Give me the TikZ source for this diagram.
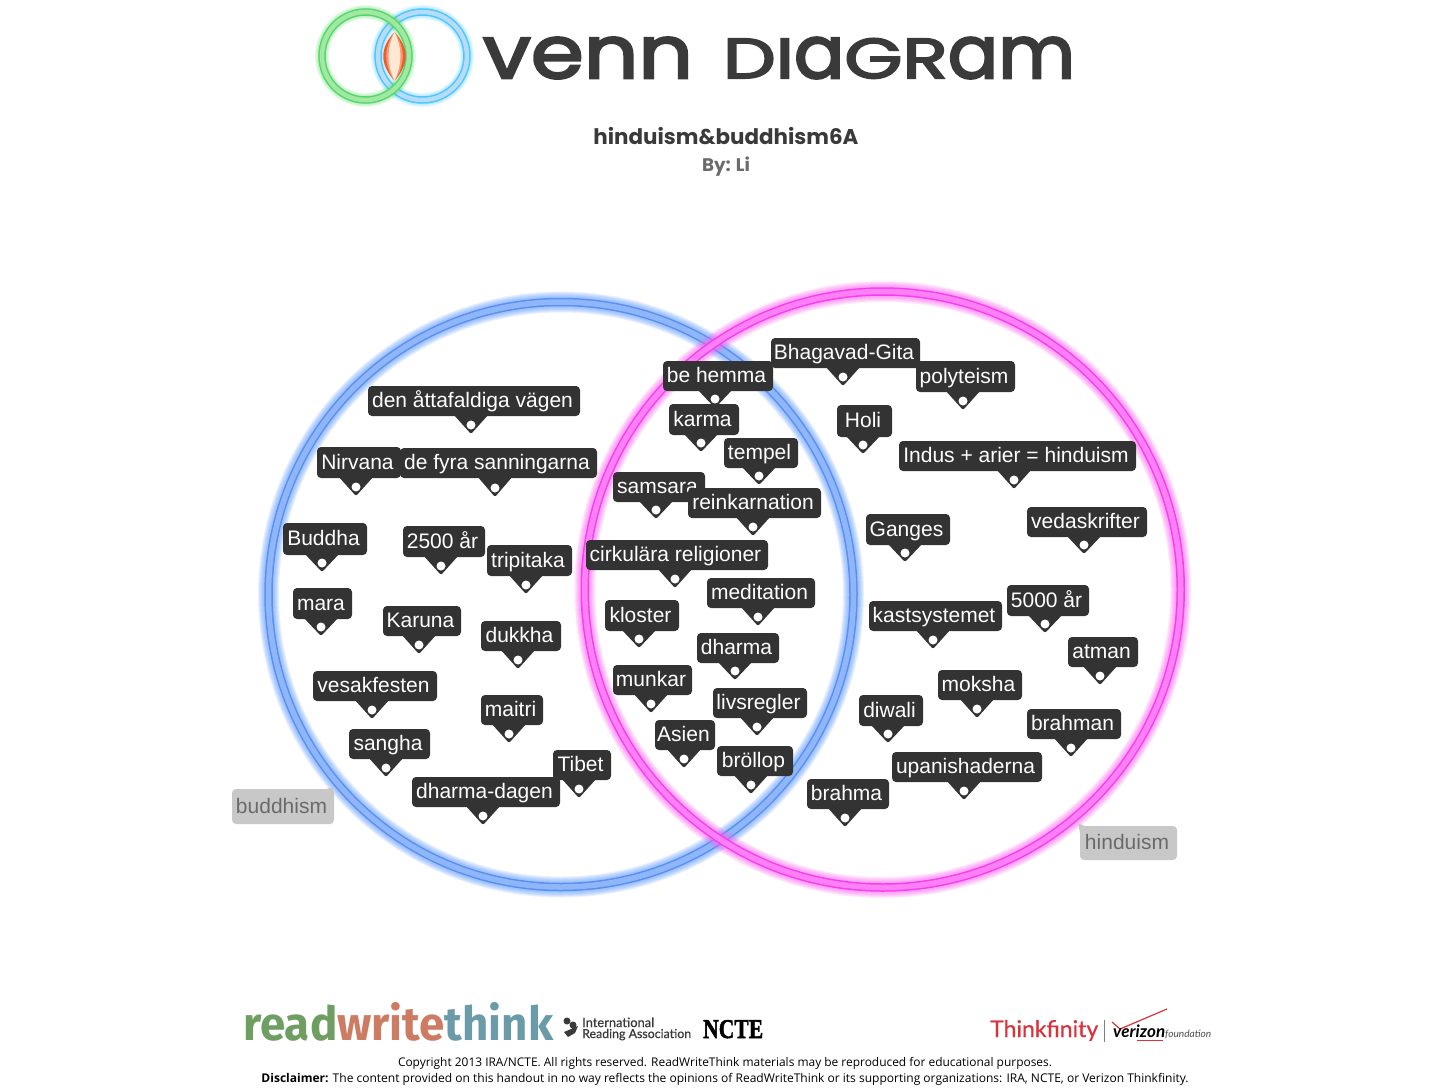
\documentclass[tikz,border=0pt]{standalone}
\usepackage{fontspec}
\usepackage{graphicx}
\setmainfont{Liberation Sans}
\newfontfamily\popf{Poppins}
\newfontfamily\popfk[FakeBold=3]{Poppins}
\newfontfamily\openf{Open Sans}
\newfontfamily\fira{Fira Sans}
\newfontfamily\latof{Lato}
\newfontfamily\latofb[FakeBold=0.5]{Lato}
\newfontfamily\serfk[BoldFeatures={FakeBold=2}]{Liberation Serif}
\definecolor{tagdark}{HTML}{333333}
\definecolor{taggray}{HTML}{C8C8C8}
\definecolor{taggraytext}{HTML}{6A6A6A}
\definecolor{bluering}{HTML}{5A8FF2}
\definecolor{bluemid}{HTML}{8FB6F8}
\definecolor{blueglow}{HTML}{5A98FF}
\definecolor{pinkring}{HTML}{F43FEC}
\definecolor{pinkmid}{HTML}{FF80F6}
\definecolor{pinkglow}{HTML}{FF60F5}
\definecolor{logodark}{HTML}{3A3A3A}
\definecolor{lggreen}{HTML}{55D865}
\definecolor{lgmid}{HTML}{A0E8A4}
\definecolor{lgcyan}{HTML}{48C8FF}
\definecolor{lgcmid}{HTML}{B8DCF8}
\definecolor{lenscream}{HTML}{FFE9D4}
\definecolor{lensred}{HTML}{EE5A2A}
\definecolor{rwgreen}{HTML}{6F9E63}
\definecolor{rwred}{HTML}{CD7B62}
\definecolor{rwteal}{HTML}{6B9AA8}
\definecolor{tfred}{HTML}{D8323C}
\tikzset{
  x=1pt,y=-1pt,
  tagbody/.style={fill=tagdark,text=white,rounded corners=4pt,inner sep=0pt,font=\fontsize{21}{24}\selectfont,text height=17pt,text depth=4pt},
  graybody/.style={fill=taggray,text=taggraytext,rounded corners=4pt,inner sep=0pt,font=\fontsize{21}{24}\selectfont,text height=17pt,text depth=4pt},
  foot/.style={inner sep=0pt,text=black},
}
% name, x0,y0,x1,y1, text, dotx, doty
\newcommand\tagbox[8]{%
  \fill[tagdark,rounded corners=2pt] ({#7-18},{#5-2}) -- (#7,{#8+9}) -- ({#7+18},{#5-2}) -- cycle;
  \node[tagbody,minimum width={(#4-#2)*1pt},minimum height={(#5-#3)*1pt}] (#1) at ({(#2+#4)/2},{(#3+#5)/2}) {\kern-3pt #6};
  \fill[white] (#7,#8) circle (4.5);
}
\newcommand\ring[6]{% cx cy r glow line mid
  \foreach \w in {21,19,17,15,13,11}{\draw[#4,line width=\w pt,opacity=.13] (#1,#2) circle (#3);}
  \draw[#5,line width=8.5pt] (#1,#2) circle (#3);
  \draw[#6,line width=5.5pt] (#1,#2) circle (#3);
}
\newcommand\lring[4]{% cx rx line mid
  \foreach \w in {14,12,10}{\draw[#3,line width=\w pt,opacity=.12] (#1,56) ellipse (#2 and 44);}
  \draw[#3,line width=7.5pt] (#1,56) ellipse (#2 and 44);
  \draw[#4,line width=4.5pt] (#1,56) ellipse (#2 and 44);
}
\newcommand\lens[2]{% half width, colour
  \fill[#2] (394.5,32) .. controls ({394.5-#1*1.3},48) and ({394.5-#1*1.3},64) .. (394.5,81) .. controls ({394.5+#1*1.3},64) and ({394.5+#1*1.3},48) .. (394.5,32) -- cycle;
}
\newcommand\lc[1]{\scalebox{1}[1.3]{#1}}
\begin{document}
\begin{tikzpicture}
\useasboundingbox (0,0) rectangle (1451,1087);
\fill[white] (0,0) rectangle (1451,1087);

% logo rings
\lring{422.5}{44.5}{lgcyan}{lgcmid}
\lring{365.5}{43.5}{lggreen}{lgmid}
\lens{11.5}{lensred}
\lens{8.5}{lensred!55!lenscream}
\lens{6}{lenscream}

\node[inner sep=0pt,text=logodark] (logoa) at (588,58) {\resizebox{210pt}{41pt}{\popfk\lc{venn}}};
\node[inner sep=0pt,text=logodark] (logob) at (899,58) {\resizebox{352pt}{41pt}{\popfk DI\lc{a}GR\lc{am}}};
\node[inner sep=0pt,text=logodark] (title) at (726,136) {\resizebox{265pt}{!}{\popf\bfseries hinduism\&buddhism6A}};
\node[inner sep=0pt,text=black!58] (author) at (726,167) {\resizebox{48pt}{!}{\popf\bfseries By: Li}};

% venn circles
\ring{561}{594.5}{292.5}{blueglow}{bluering}{bluemid}
\ring{882.75}{589.5}{298}{pinkglow}{pinkring}{pinkmid}

% gray labels
\fill[taggray] (320,791) -- (333,787) -- (334,800) -- cycle;
\node[graybody,minimum width=102pt,minimum height=35pt] (lblb) at (283,806.5) {\kern-3pt buddhism};
\fill[taggray] (1078,823) -- (1094,830) -- (1082,842) -- cycle;
\node[graybody,minimum width=97pt,minimum height=34pt] (lblh) at (1128.5,843) {\kern-3pt hinduism};

% tags
\tagbox{bhagavad}{771}{338}{920}{368}{Bhagavad-Gita}{843}{377}
\tagbox{polyteism}{916}{361}{1015}{392}{polyteism}{963}{401}
\tagbox{behemma}{663}{361}{773}{391}{be hemma}{715}{399}
\tagbox{atta}{368}{386}{580}{416}{den åttafaldiga vägen}{471}{425}
\tagbox{karma}{669}{404}{739}{435}{karma}{701}{443}
\tagbox{holi}{837}{405}{892}{437}{Holi}{863}{445}
\tagbox{tempel}{724}{438}{798}{468}{tempel}{759}{476}
\tagbox{indus}{899}{441}{1136}{471}{Indus + arier = hinduism}{1014}{480}
\tagbox{nirvana}{317}{447}{401}{478}{Nirvana}{356}{487}
\tagbox{fyra}{400}{448}{597}{478}{de fyra sanningarna}{495}{488}
\tagbox{samsara}{613}{472}{705}{502}{samsara}{656}{510}
\tagbox{reink}{688}{488}{821}{518}{reinkarnation}{753}{527}
\tagbox{veda}{1027}{507}{1147}{537}{vedaskrifter}{1084}{545}
\tagbox{ganges}{866}{514}{950}{545}{Ganges}{905}{553}
\tagbox{buddha}{283}{523}{367}{555}{Buddha}{322}{563}
\tagbox{ar2500}{403}{526}{485}{557}{2500 år}{441}{566}
\tagbox{tripitaka}{487}{545}{572}{576}{tripitaka}{526}{585}
\tagbox{cirk}{586}{540}{768}{570}{cirkulära religioner}{675}{579}
\tagbox{medit}{707}{578}{815}{608}{meditation}{758}{617}
\tagbox{ar5000}{1007}{585}{1089}{616}{5000 år}{1045}{624}
\tagbox{mara}{293}{588}{352}{619}{mara}{321}{627}
\tagbox{kast}{869}{601}{1002}{631}{kastsystemet}{933}{640}
\tagbox{kloster}{605}{600}{679}{631}{kloster}{639}{639}
\tagbox{karuna}{383}{606}{461}{636}{Karuna}{419}{645}
\tagbox{dukkha}{481}{621}{561}{651}{dukkha}{518}{660}
\tagbox{dharma}{697}{633}{779}{663}{dharma}{735}{671}
\tagbox{atman}{1068}{637}{1138}{667}{atman}{1100}{676}
\tagbox{munkar}{613}{665}{692}{695}{munkar}{651}{704}
\tagbox{moksha}{938}{670}{1022}{700}{moksha}{977}{709}
\tagbox{vesak}{313}{671}{437}{701}{vesakfesten}{372}{710}
\tagbox{livs}{713}{688}{807}{718}{livsregler}{757}{727}
\tagbox{maitri}{481}{695}{543}{725}{maitri}{509}{734}
\tagbox{diwali}{859}{695}{923}{726}{diwali}{888}{734}
\tagbox{brahman}{1027}{709}{1121}{739}{brahman}{1071}{748}
\tagbox{asien}{655}{720}{715}{750}{Asien}{684}{759}
\tagbox{sangha}{349}{729}{430}{759}{sangha}{386}{768}
\tagbox{brollop}{717}{746}{793}{776}{bröllop}{751}{785}
\tagbox{upan}{892}{752}{1042}{782}{upanishaderna}{964}{791}
\tagbox{tibet}{553}{750}{611}{780}{Tibet}{579}{789}
\tagbox{brahma}{807}{779}{889}{809}{brahma}{845}{818}
\tagbox{ddagen}{412}{777}{560}{807}{dharma-dagen}{483}{816}

% footer logos
\node[inner sep=0pt,anchor=south west] (rwt) at (243,1041) {\resizebox{310pt}{38pt}{\fira\bfseries\textcolor{rwgreen}{read}\textcolor{rwred}{write}\textcolor{rwteal}{think}}};
\fill[logodark] (567,1021) circle (3.5) (573,1025) circle (3.5) (564,1032) -- (578,1026) -- (575,1033) -- (568,1037) -- cycle;
\node[inner sep=0pt,anchor=base west,text=logodark] (ira1) at (582,1027) {\resizebox{72pt}{!}{\latofb International}};
\node[inner sep=0pt,anchor=base west,text=logodark] (ira2) at (582,1038) {\resizebox{109pt}{!}{\latofb Reading Association}};
\node[inner sep=0pt,anchor=base west,text=black] (ncte) at (703,1038) {\resizebox{60pt}{18pt}{\serfk\bfseries NCTE}};
\node[inner sep=0pt,anchor=base west,text=tfred] (tf) at (990,1037) {\resizebox{108pt}{!}{\latofb Thinkfinity}};
\draw[black!50,line width=.6pt] (1104,1020) -- (1104,1042);
\draw[tfred,line width=1.2pt] (1112,1022) -- (1120,1029) -- (1167,1009);
\node[inner sep=0pt,anchor=base west,text=black] (vz) at (1113,1037) {\resizebox{52pt}{!}{\latof\bfseries\itshape verizon}};
\draw[tfred,line width=1pt] (1137,1040) -- (1163,1040);
\node[inner sep=0pt,anchor=base west,text=black!70] (vf) at (1165,1037) {\resizebox{46pt}{!}{\latof\itshape foundation}};

\node[foot] (copy) at (725,1063) {\resizebox{654pt}{!}{\openf Copyright 2013 IRA/NCTE. All rights reserved. ReadWriteThink materials may be reproduced for educational purposes.}};
\node[foot] (disc) at (725,1079) {\resizebox{927pt}{!}{\openf\textbf{Disclaimer:} The content provided on this handout in no way reflects the opinions of ReadWriteThink or its supporting organizations: IRA, NCTE, or Verizon Thinkfinity.}};
\end{tikzpicture}
\end{document}
